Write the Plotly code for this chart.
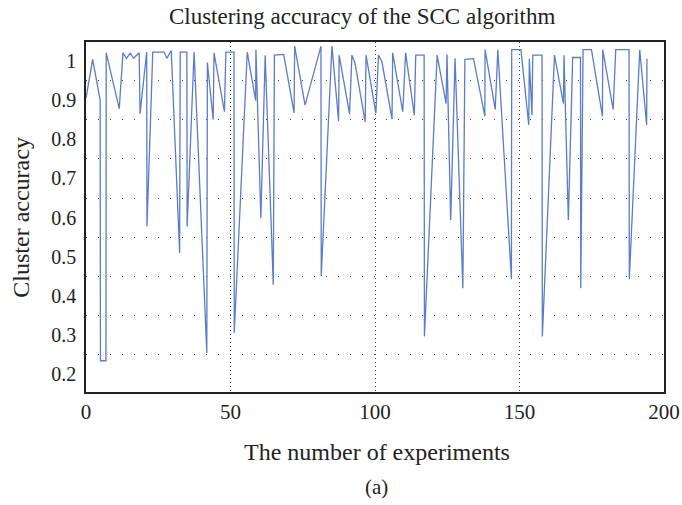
import plotly.graph_objects as go

experiments = [0.0, 2.3, 4.9, 5.0, 6.9, 7.0, 11.5, 12.8, 14.0, 15.3, 16.5, 18.4, 18.7, 21.0, 21.1,
               23.1, 27.0, 28.0, 29.5, 32.4, 32.6, 34.9, 35.0, 37.4, 41.8, 42.0, 44.0, 44.3, 47.9,
               48.4, 51.2, 51.3, 55.8, 58.7, 58.8, 60.5, 62.0, 64.8, 65.2, 68.4, 72.0, 72.2,
               75.8, 81.3, 81.4, 85.1, 87.4, 87.6, 91.2, 92.0, 93.1, 96.6, 96.9, 100.3, 101.2,
               102.4, 105.9, 106.1, 109.6, 110.6, 113.6, 114.1, 117.0, 117.1, 121.5, 124.6, 124.9,
               126.2, 127.7, 130.4, 131.1, 134.1, 138.0, 138.1, 141.6, 142.5, 147.2, 147.3, 150.5,
               153.2, 153.4, 154.3, 154.6, 157.8, 157.9, 162.1, 165.2, 165.4, 166.9, 168.4, 171.1,
               171.2, 172.0, 174.9, 178.7, 178.8, 182.4, 183.3, 187.9, 188.0, 191.6, 194.0, 194.1]
accuracy = [0.906, 1.005, 0.901, 0.233, 0.233, 1.022, 0.879, 1.022, 1.008, 1.021, 1.008, 1.022, 0.866,
            1.024, 0.577, 1.024, 1.024, 1.008, 1.028, 0.509, 1.024, 1.024, 0.577, 1.024, 0.253, 0.997,
            0.851, 1.022, 0.871, 1.024, 1.024, 0.304, 1.024, 0.900, 1.030, 0.598, 1.016, 0.428, 1.016,
            1.018, 0.868, 1.039, 0.888, 1.039, 0.450, 1.039, 0.847, 1.016, 0.865, 1.016, 0.995,
            0.845, 1.016, 0.867, 1.016, 0.999, 0.852, 1.022, 0.871, 1.022, 0.862, 1.016, 1.016, 0.295,
            1.016, 0.892, 1.018, 0.594, 1.008, 0.419, 1.005, 1.007, 0.860, 1.030, 0.877, 1.030, 0.442,
            1.030, 1.030, 0.837, 1.007, 0.862, 1.016, 1.016, 0.295, 1.016, 0.892, 1.016, 0.594, 1.010,
            1.010, 0.419, 1.030, 1.030, 0.860, 1.030, 0.877, 1.030, 1.030, 0.442, 1.030, 0.837, 1.007]

x_ticks = [0, 50, 100, 150, 200]
y_ticks = [0.2, 0.3, 0.4, 0.5, 0.6, 0.7, 0.8, 0.9, 1.0]
y_tick_text = ["0.2", "0.3", "0.4", "0.5", "0.6", "0.7", "0.8", "0.9", "1"]
y_grid = [0.25, 0.35, 0.45, 0.55, 0.65, 0.75, 0.85, 0.95]
x_grid = [50, 100, 150]

FONT = "Liberation Serif, Times New Roman, serif"

fig = go.Figure()
fig.add_trace(go.Scatter(
    x=experiments, y=accuracy, mode="lines",
    line=dict(color="#5b7cc6", width=1.3),
    showlegend=False, hoverinfo="skip",
))

fig.update_layout(
    width=682, height=505,
    margin=dict(l=86, r=18, t=42, b=113, autoexpand=False),
    paper_bgcolor="white", plot_bgcolor="white",
    font=dict(family=FONT, color="#222", size=20),
    title=dict(text="Clustering accuracy of the SCC algorithm", x=0.531, xanchor="center",
               y=0.969, yanchor="middle", font=dict(size=23, family=FONT, color="#222")),
    xaxis=dict(range=[0, 200], tickvals=x_ticks, showgrid=False, zeroline=False,
               showline=True, linecolor="#222", linewidth=1.5, mirror=True,
               ticks="", tickfont=dict(size=21, family=FONT),
               minor=dict(tickvals=x_grid, showgrid=True, gridcolor="#444",
                          griddash="1px,3px", gridwidth=1, ticks="")),
    yaxis=dict(range=[0.153, 1.0497], tickvals=y_ticks, ticktext=y_tick_text,
               showgrid=False, zeroline=False,
               showline=True, linecolor="#222", linewidth=1.5, mirror=True,
               ticks="", tickfont=dict(size=20, family=FONT), ticklabelstandoff=4,
               minor=dict(tickvals=y_grid, showgrid=True, gridcolor="#444",
                          griddash="1px,11px", gridwidth=1, ticks="")),
    annotations=[
        dict(text="The number of experiments", xref="paper", yref="paper", x=0.503, y=-0.171,
             xanchor="center", yanchor="middle", showarrow=False,
             font=dict(size=24, family=FONT, color="#222")),
        dict(text="Cluster accuracy", xref="paper", yref="paper", x=-0.113, y=0.5,
             xanchor="center", yanchor="middle", textangle=-90, showarrow=False,
             font=dict(size=24, family=FONT, color="#222")),
        dict(text="(a)", xref="paper", yref="paper", x=0.503, y=-0.271,
             xanchor="center", yanchor="middle", showarrow=False,
             font=dict(size=21, family=FONT, color="#222")),
    ],
)

fig.write_html("out.html", config={"displayModeBar": False},
               post_script="document.body.style.margin='0';")
